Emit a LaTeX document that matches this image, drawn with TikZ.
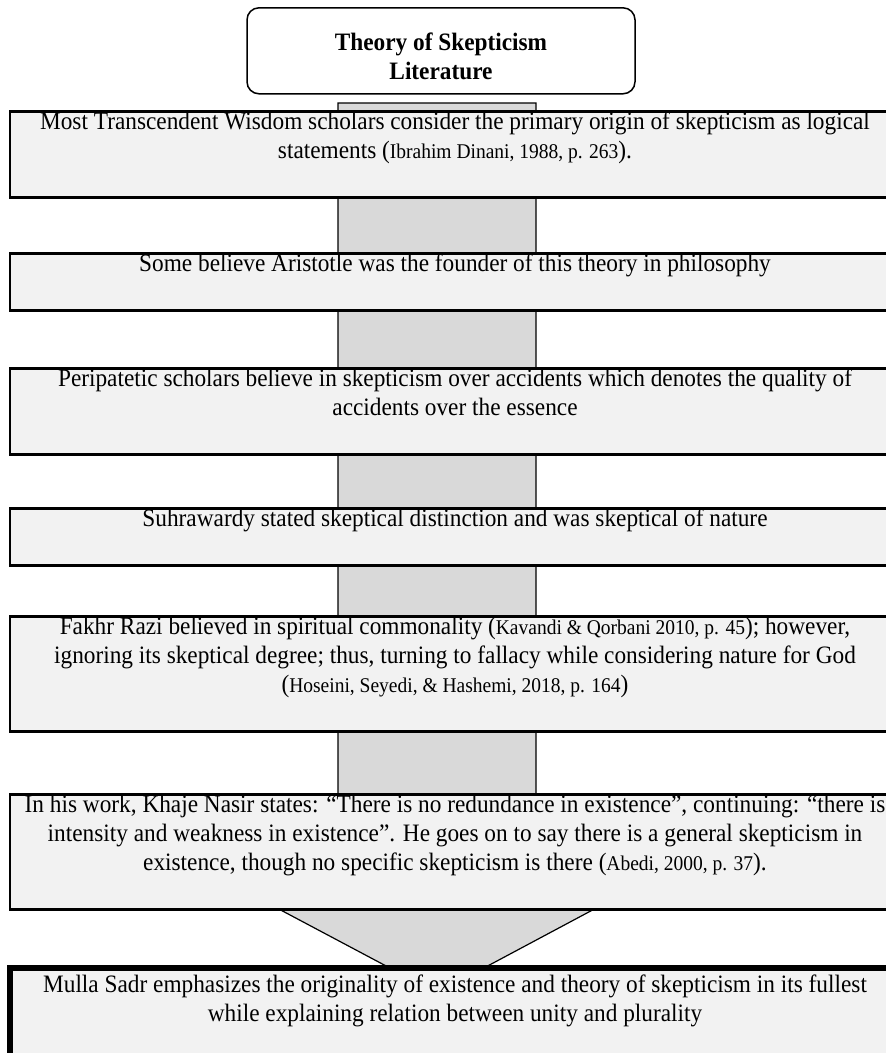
\documentclass[tikz,border=0pt]{standalone}
\usepackage{fontspec}
\setmainfont{Liberation Serif}
\usetikzlibrary{positioning}
\definecolor{BoxGray}{HTML}{F2F2F2}
\definecolor{ArrowGray}{HTML}{D9D9D9}
\newcommand{\bodyfont}{\fontsize{23.3}{27}\selectfont}
\newcommand{\smcite}[1]{{\fontsize{19.5}{27}\selectfont #1}}
\newcommand{\topline}[1][16.7pt]{\rule{0pt}{#1}}

\begin{document}
\begin{tikzpicture}[x=1pt,y=-1pt,
  titlebox/.style={draw=black,line width=1.5pt,fill=white,rounded corners=12pt,minimum width=388pt,inner sep=0pt,align=center,anchor=north,yscale=1.075,font=\bodyfont\bfseries,execute at end node={\rule[-13pt]{0pt}{13pt}}},
  stepbox/.style={draw=black,line width=2.5pt,fill=BoxGray,minimum width=890pt,inner sep=0pt,align=center,anchor=north,yscale=1.075,font=\bodyfont,execute at end node={\rule[-36.3pt]{0pt}{36.3pt}}},
  lastbox/.style={stepbox,line width=6pt,execute at end node={\rule[-45pt]{0pt}{45pt}}},
  blockarrow/.style={draw=black,line width=1.2pt,fill=ArrowGray}]
\useasboundingbox (0,0) rectangle (886,1053);
% the big arrow behind all the steps
\draw[blockarrow] (338,103) -- (536,103) -- (536,890) -- (630,890) -- (437,993) -- (243,890) -- (338,890) -- cycle;
\node[titlebox] (title) at (441,7) {\topline[40pt]Theory of Skepticism\\Literature};
\node[stepbox] (s1) at (455,110) {\topline Most Transcendent Wisdom scholars consider the primary origin of skepticism as logical\\statements (\smcite{Ibrahim Dinani, 1988, p. 263}).};
\node[stepbox] (s2) at (455,252) {\topline Some believe Aristotle was the founder of this theory in philosophy};
\node[stepbox] (s3) at (455,367) {\topline Peripatetic scholars believe in skepticism over accidents which denotes the quality of\\accidents over the essence};
\node[stepbox] (s4) at (455,507) {\topline Suhrawardy stated skeptical distinction and was skeptical of nature};
\node[stepbox] (s5) at (455,615) {\topline Fakhr Razi believed in spiritual commonality (\smcite{Kavandi \& Qorbani 2010, p. 45}); however,\\ignoring its skeptical degree; thus, turning to fallacy while considering nature for God\\(\smcite{Hoseini, Seyedi, \& Hashemi, 2018, p. 164})};
\node[stepbox] (s6) at (455,793) {\topline In his work, Khaje Nasir states: “There is no redundance in existence”, continuing: “there is\\intensity and weakness in existence”. He goes on to say there is a general skepticism in\\existence, though no specific skepticism is there (\smcite{Abedi, 2000, p. 37}).};
\node[lastbox] (s7) at (455,965) {\topline[22.3pt]Mulla Sadr emphasizes the originality of existence and theory of skepticism in its fullest\\while explaining relation between unity and plurality};
\end{tikzpicture}
\end{document}
